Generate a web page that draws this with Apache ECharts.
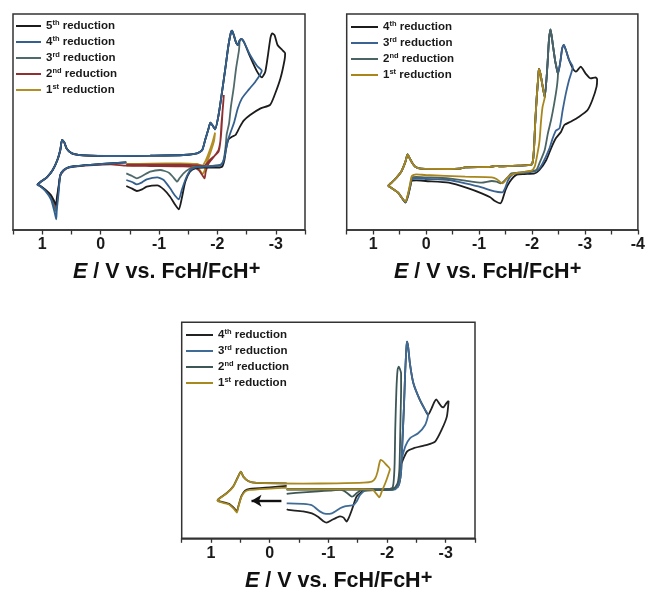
<!DOCTYPE html>
<html><head><meta charset="utf-8">
<script src="https://cdn.jsdelivr.net/npm/echarts@6/dist/echarts.min.js"></script>
<style>html,body{margin:0;padding:0;background:#fff;width:648px;height:597px;overflow:hidden}
.c{position:absolute;left:0;top:0;width:648px;height:597px}</style>
</head><body>
<div id="c1" class="c"></div><div id="c2" class="c"></div><div id="c3" class="c"></div>
<script>
// ---------- Panel 1 data: [E (V vs FcH/FcH+), current (a.u.)] ----------
const p1FcLowerBlack = [[-0.44,203],[-0.17,200],[0.12,196],[0.40,192],[0.55,188],[0.63,180],[0.69,165],[0.72,130],[0.75,95],[0.76,75],[0.79,85],[0.85,105],[0.95,122],[1.04,133],[1.08,137]];
const p1FcLowerBlue  = [[-0.44,203],[-0.17,200],[0.12,196],[0.40,192],[0.55,188],[0.63,180],[0.69,165],[0.72,110],[0.75,60],[0.76,32],[0.79,55],[0.85,92],[0.95,118],[1.04,132],[1.08,135]];
const p1FcLowerGray  = [[-0.44,203],[-0.17,200],[0.12,196],[0.40,192],[0.55,188],[0.63,180],[0.69,165],[0.72,120],[0.75,75],[0.76,55],[0.79,68],[0.85,98],[0.95,120],[1.04,133],[1.08,136]];
const p1FcLowerRed   = [[-0.17,197],[0.12,195],[0.40,191],[0.55,187],[0.63,178],[0.69,162],[0.72,125],[0.75,85],[0.76,65],[0.79,78],[0.85,100],[0.95,120],[1.04,133],[1.08,136]];
const p1FcUpper = [[1.03,144],[0.92,158],[0.82,180],[0.74,210],[0.69,240],[0.66,270],[0.62,262],[0.58,244],[0.49,230],[0.29,224],[-0.28,222],[-0.85,223],[-1.42,225],[-1.65,230],[-1.74,240],[-1.79,270],[-1.85,305],[-1.88,322],[-1.92,313],[-1.96,302]];
const p1Rise = [[-2.02,345],[-2.08,415],[-2.14,490],[-2.19,555],[-2.23,592],[-2.25,598],[-2.28,585],[-2.32,562],[-2.35,555],[-2.38,568]];
const p1BlackTail = [[-2.41,573],[-2.46,562],[-2.56,520],[-2.68,475],[-2.76,458],[-2.82,475],[-2.87,530],[-2.91,578],[-2.94,590],[-2.98,584],[-3.03,555],[-3.11,540],[-3.16,530],
  [-3.15,510],[-3.08,455],[-2.98,405],[-2.90,375],[-2.74,365],[-2.56,345],[-2.45,328],[-2.38,308],[-2.31,285],[-2.25,280],[-2.19,272],[-2.15,245],[-2.12,210],[-2.08,190],[-1.94,187],[-1.77,187],[-1.62,185],[-1.53,175],[-1.45,145],[-1.39,95],[-1.34,62],[-1.28,75],[-1.19,100],[-1.08,122],[-0.97,134],[-0.79,130],[-0.71,122],[-0.62,117],[-0.54,124],[-0.44,132]];
const p1BlueTail = [[-2.41,573],[-2.46,562],[-2.56,525],[-2.68,492],[-2.76,478],
  [-2.65,445],[-2.54,422],[-2.42,395],[-2.35,365],[-2.29,325],[-2.23,295],[-2.18,270],[-2.14,235],[-2.10,205],[-2.05,194],[-1.91,191],[-1.77,190],[-1.62,188],[-1.53,178],[-1.45,150],[-1.39,120],[-1.34,92],[-1.28,102],[-1.19,125],[-1.08,150],[-0.97,158],[-0.79,152],[-0.71,143],[-0.62,137],[-0.54,144],[-0.44,150]];
const p1GrayTail = [[-2.39,567],
  [-2.37,540],[-2.32,485],[-2.28,428],[-2.23,368],[-2.20,320],[-2.16,288],[-2.14,250],[-2.11,212],[-2.06,196],[-1.88,192],[-1.71,190],[-1.59,188],[-1.51,182],[-1.42,170],[-1.35,155],[-1.31,145],[-1.25,157],[-1.17,172],[-1.02,180],[-0.85,175],[-0.71,162],[-0.62,155],[-0.54,162],[-0.44,170]];
const p1RedScan = [[-0.44,196],[-0.85,196],[-1.37,196],[-1.68,194],[-1.77,192],[-1.82,200],[-1.88,212],[-1.96,224],[-2.02,235],[-2.05,265],[-2.07,320],[-2.10,380],[-2.11,405],
  [-2.09,360],[-2.06,280],[-2.02,240],[-1.94,220],[-1.85,200],[-1.80,175],[-1.78,155],[-1.74,165],[-1.68,180],[-1.59,188],[-1.42,191],[-0.85,192],[-0.44,193]];
const p1GoldScan = [[-0.44,198],[-0.85,199],[-1.37,200],[-1.65,198],[-1.74,193],[-1.79,205],[-1.85,230],[-1.91,260],[-1.96,292],
  [-1.94,265],[-1.88,232],[-1.82,202],[-1.78,178],[-1.74,168],[-1.70,180],[-1.62,190],[-1.48,194],[-0.85,194],[-0.44,193]];

// ---------- Panel 2 data ----------
const p2Forward = [[0.72,132],[0.68,138],[0.60,150],[0.47,175],[0.39,205],[0.35,227],[0.30,212],[0.25,198],[0.19,188],[0.10,184],[-0.43,183],[-0.62,184],[-0.74,188],[-1.18,189],[-1.30,192],[-1.40,191],[-1.74,193],[-1.99,196],[-2.02,210],[-2.04,250],[-2.06,320],[-2.09,400],[-2.12,462],[-2.13,483],[-2.16,468],[-2.20,432],[-2.24,398]];
const p2GoldReturn = [[-2.20,370],[-2.17,325],[-2.14,265],[-2.09,218],[-2.05,190],[-1.99,178],[-1.74,172],[-1.61,166],[-1.54,158],[-1.48,145],[-1.44,140],[-1.40,144],[-1.33,153],[-1.24,158],[-0.74,160],[0.01,165],[0.19,167],[0.27,162],[0.30,140],[0.34,110],[0.39,85],[0.44,93],[0.53,112],[0.66,127],[0.72,132]];
const p2Rise = [[-2.29,490],[-2.32,570],[-2.35,602],[-2.39,560],[-2.44,505]];
const p2GrayTail = [[-2.49,468],
  [-2.47,430],[-2.42,380],[-2.36,330],[-2.30,290],[-2.24,240],[-2.14,200],[-2.08,180],[-1.89,175],[-1.74,172],[-1.61,170],[-1.54,158],[-1.48,148],[-1.41,140],[-1.33,145],[-1.24,147],[-1.05,142],[-0.74,148],[-0.43,155],[0.01,158],[0.19,159],[0.27,157],[0.30,135],[0.34,107],[0.39,84],[0.44,93],[0.53,112],[0.66,127],[0.72,132]];
const p2BlueTail = [[-2.49,468],[-2.54,510],[-2.57,545],[-2.60,555],[-2.64,540],[-2.70,510],[-2.77,490],
  [-2.70,450],[-2.64,410],[-2.58,360],[-2.52,305],[-2.45,298],[-2.39,275],[-2.33,245],[-2.20,200],[-2.11,180],[-1.92,172],[-1.74,170],[-1.64,168],[-1.55,150],[-1.49,125],[-1.44,113],[-1.36,114],[-1.24,118],[-1.05,128],[-0.74,140],[-0.43,150],[0.01,153],[0.19,154],[0.27,152],[0.30,132],[0.34,105],[0.39,83],[0.44,92],[0.53,112],[0.66,127],[0.72,132]];
const p2BlackTail = [[-2.49,468],[-2.54,510],[-2.57,545],[-2.60,555],[-2.64,540],[-2.70,510],[-2.77,485],[-2.83,475],[-2.92,490],[-3.01,470],[-3.11,455],[-3.20,458],[-3.23,452],
  [-3.22,430],[-3.14,390],[-3.05,360],[-2.89,340],[-2.73,325],[-2.61,315],[-2.55,295],[-2.45,275],[-2.36,245],[-2.27,210],[-2.14,180],[-2.05,170],[-1.86,168],[-1.71,166],[-1.58,145],[-1.50,120],[-1.44,90],[-1.40,80],[-1.30,87],[-1.21,98],[-1.05,110],[-0.80,125],[-0.43,142],[0.01,147],[0.19,149],[0.27,148],[0.30,130],[0.34,102],[0.39,82],[0.44,92],[0.53,112],[0.66,127],[0.72,132]];

// ---------- Panel 3 data ----------
const p3GoldScan = [[-0.29,152],[0.00,149],[0.34,145],[0.42,140],[0.48,125],[0.53,97],[0.56,77],[0.61,88],[0.70,102],[0.85,109],[0.89,113],[0.85,120],[0.73,135],[0.62,155],[0.55,180],[0.49,200],[0.45,185],[0.36,171],[0.22,166],[-0.57,164],[-1.14,165],[-1.60,167],[-1.74,170],[-1.80,180],[-1.84,200],[-1.87,225],[-1.89,235],[-1.94,230],[-1.99,220],[-2.05,208],
  [-2.02,190],[-1.97,165],[-1.91,140],[-1.87,123],[-1.82,133],[-1.76,145],[-1.60,147],[-0.86,147],[-0.29,147]];
const p3DarkFc = [[-0.29,157],[0.00,153],[0.34,148],[0.42,143],[0.48,127],[0.53,99],[0.56,81],[0.61,91],[0.70,104],[0.85,111],[0.89,114],[0.85,121],[0.73,136],[0.62,156],[0.55,181],[0.49,200],[0.45,185],[0.36,171],[0.22,166],[-0.29,165]];
const p3Forward = [[-0.29,147],[-1.14,147],[-1.94,147],[-2.08,149]];
const p3GrayTail = [[-2.11,165],[-2.13,225],[-2.14,325],[-2.16,445],[-2.18,505],[-2.20,515],[-2.22,508],[-2.24,495],
  [-2.24,445],[-2.23,355],[-2.22,265],[-2.21,205],[-2.18,165],[-2.10,147],[-1.82,145],[-1.65,145],[-1.57,145],[-1.48,135],[-1.43,127],[-1.40,125],[-1.34,133],[-1.26,143],[-1.20,145],[-1.03,143],[-0.83,141],[-0.57,138],[-0.32,134],[-0.29,133]];
const p3BlueRise = [[-2.17,152],[-2.21,165],[-2.24,200],[-2.26,280],[-2.29,400],[-2.31,500],[-2.33,570],[-2.34,590],[-2.36,575],[-2.39,525],[-2.45,465],[-2.56,415],[-2.65,385],[-2.70,370]];
const p3BlueReturn = [[-2.65,340],[-2.53,315],[-2.39,300],[-2.31,275],[-2.25,235],[-2.22,185],[-2.19,160],[-2.14,147],[-1.94,145],[-1.71,145],[-1.63,144],[-1.54,130],[-1.48,110],[-1.43,100],[-1.37,98],[-1.28,96],[-1.20,90],[-1.06,75],[-0.96,73],[-0.86,80],[-0.72,99],[-0.57,103],[-0.32,105],[-0.29,105]];
const p3BlackTail = [[-2.76,390],[-2.81,410],[-2.84,417],[-2.88,407],[-2.93,395],[-2.96,393],[-3.01,405],[-3.05,412],
  [-3.02,365],[-2.93,325],[-2.82,290],[-2.68,280],[-2.45,270],[-2.34,260],[-2.25,225],[-2.22,175],[-2.18,155],[-2.11,147],[-1.82,145],[-1.60,143],[-1.57,140],[-1.48,125],[-1.40,85],[-1.35,62],[-1.31,50],[-1.26,62],[-1.20,66],[-1.14,62],[-1.06,55],[-0.97,47],[-0.91,52],[-0.83,64],[-0.72,75],[-0.57,81],[-0.32,85],[-0.29,87]];
const p3Arrow = [[-0.20,113],[0.31,113]];

// ---------- labels ----------
const names5 = ['5th reduction','4th reduction','3rd reduction','2nd reduction','1st reduction'];
const names4 = ['4th reduction','3rd reduction','2nd reduction','1st reduction'];
const axisTitle = '{i|E}{n| / V vs. FcH/FcH}{p|+}';

const FONT = '"Liberation Sans", Arial, sans-serif';
function ser(name, color, data, z, extra) {
  return Object.assign({type:'line', name, data, showSymbol:false, symbol:'none', smooth:0.2,
    lineStyle:{color, width:1.8}, itemStyle:{color}, z, silent:true, animation:false}, extra||{});
}
function legendFmt(name){
  const m = name.match(/^(\d)(st|nd|rd|th) (.*)$/);
  return '{b|'+m[1]+'}{s|'+m[2]+'}{b| '+m[3]+'}';
}
function panel(id, cfg){
  const chart = echarts.init(document.getElementById(id), null, {renderer:'canvas'});
  chart.setOption({
    animation:false,
    grid:{left:cfg.grid[0], top:cfg.grid[1], width:cfg.grid[2], height:cfg.grid[3], show:true, borderColor:'#333', borderWidth:1.5, backgroundColor:'transparent'},
    xAxis:{type:'value', inverse:true, min:cfg.xmin, max:1.5, interval:0.5,
      axisLine:{show:true, onZero:false, lineStyle:{color:'#333', width:1.5}},
      axisTick:{show:true, length:4.5, lineStyle:{color:'#333', width:1.3}},
      splitLine:{show:false},
      axisLabel:{showMinLabel:true, showMaxLabel:true, margin:7, fontSize:16, fontWeight:'bold', color:'#1a1a1a', fontFamily:FONT,
        formatter:v=>Math.abs(v-Math.round(v))<1e-9 ? String(Math.round(v)) : ''}},
    yAxis:{type:'value', min:0, max:648, show:false},
    legend:{orient:'vertical', left:cfg.legend[0], top:cfg.legend[1], itemWidth:cfg.legend[2], itemHeight:2, itemGap:2, padding:0,
      icon:'rect', selectedMode:false, data:cfg.names, formatter:legendFmt,
      textStyle:{fontFamily:FONT, fontWeight:'bold', color:'#1a1a1a', fontSize:11.5, lineHeight:14,
        rich:{b:{fontFamily:FONT, fontWeight:'bold', color:'#1a1a1a', fontSize:11.5, lineHeight:14},
              s:{fontFamily:FONT, fontWeight:'bold', color:'#1a1a1a', fontSize:7.5, lineHeight:10, verticalAlign:'top'}}}},
    graphic:[{type:'text', x:cfg.title[0], y:cfg.title[1], silent:true,
      style:{text:axisTitle, align:'left', verticalAlign:'middle', fill:'#111',
        rich:{i:{fontFamily:FONT, fontWeight:'bold', fontStyle:'italic', fontSize:21.5, lineHeight:26, fill:'#111'},
              n:{fontFamily:FONT, fontWeight:'bold', fontSize:21.5, lineHeight:26, fill:'#111'},
              p:{fontFamily:FONT, fontWeight:'bold', fontSize:20, lineHeight:17, verticalAlign:'top', fill:'#111'}}}}],
    series:cfg.series
  });
}

// Panel 1
const c1 = {black:'#1c1c1c', blue:'#33608e', gray:'#4f6a6a', red:'#8e3030', gold:'#b28e24'};
panel('c1', {grid:[13,14,292,216], xmin:-3.5, legend:[16,19,25], names:names5, title:[73,272],
  series:[
    ser('1st reduction', c1.gold, p1GoldScan, 2),
    ser('2nd reduction', c1.red, p1RedScan.concat(p1FcLowerRed, p1FcUpper.slice(0,10), [[-0.44,222]]), 3),
    ser('3rd reduction', c1.gray, p1FcLowerGray.concat(p1FcUpper, p1Rise, p1GrayTail), 4),
    ser('5th reduction', c1.black, p1FcLowerBlack.concat(p1FcUpper, p1Rise, p1BlackTail), 5),
    ser('4th reduction', c1.blue, p1FcLowerBlue.concat(p1FcUpper, p1Rise, p1BlueTail), 6)
  ]});

// Panel 2
const c2 = {black:'#1c1c1c', blue:'#3a6394', gray:'#4a6464', gold:'#a8861c'};
panel('c2', {grid:[346.7,14,294.3,216], xmin:-4, legend:[351,20,27], names:names4, title:[394,272],
  series:[
    ser('4th reduction', c2.black, p2Forward.concat(p2Rise, p2BlackTail), 2),
    ser('3rd reduction', c2.blue, p2Forward.concat(p2Rise, p2BlueTail), 3),
    ser('2nd reduction', c2.gray, p2Forward.concat(p2Rise, p2GrayTail), 4),
    ser('1st reduction', c2.gold, p2Forward.concat(p2GoldReturn), 5)
  ]});

// Panel 3
const c3 = {black:'#222222', blue:'#3f6b96', gray:'#3d5656', gold:'#a8891f'};
panel('c3', {grid:[181.7,322.3,293.3,216], xmin:-3.5, legend:[186,328,27], names:names4, title:[245,581],
  series:[
    ser('4th reduction', c3.black, p3DarkFc, 1, {markLine:{silent:true, symbol:['none','arrow'], symbolSize:[9,10],
      label:{show:false}, lineStyle:{color:'#111', width:2.4, type:'solid'},
      data:[[{coord:p3Arrow[0]},{coord:p3Arrow[1]}]]}}),
    ser('4th reduction', c3.black, p3Forward.concat(p3BlueRise, p3BlackTail), 2),
    ser('3rd reduction', c3.blue, p3Forward.concat(p3BlueRise, p3BlueReturn), 3),
    ser('2nd reduction', c3.gray, p3Forward.concat(p3GrayTail), 4),
    ser('1st reduction', c3.gold, p3GoldScan, 5)
  ]});
</script></body></html>
